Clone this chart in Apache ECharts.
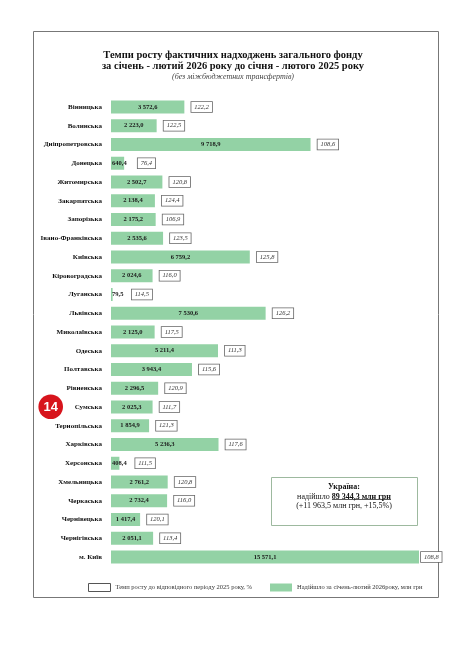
<!DOCTYPE html>
<html>
<head>
<meta charset="utf-8">
<script src="https://cdn.jsdelivr.net/npm/echarts@6/dist/echarts.min.js"></script>
<style>
  html, body { margin: 0; padding: 0; background: #fff; }
  #chart { width: 468px; height: 663px; }
</style>
</head>
<body>
<div id="chart"></div>
<script>
"use strict";
// Надходження загального фонду за січень-лютий 2026 по областях
const regions = [
    "Вінницька", "Волинська", "Дніпропетровська", "Донецька", "Житомирська",
    "Закарпатська", "Запорізька", "Івано-Франківська", "Київська", "Кіровоградська",
    "Луганська", "Львівська", "Миколаївська", "Одеська", "Полтавська",
    "Рівненська", "Сумська", "Тернопільська", "Харківська", "Херсонська",
    "Хмельницька", "Черкаська", "Чернівецька", "Чернігівська", "м. Київ",
];
// млн грн
const amounts = [
    3572.6, 2223.0, 9718.9, 640.4, 2502.7,
    2138.4, 2175.2, 2535.6, 6759.2, 2024.6,
    79.5, 7530.6, 2125.0, 5211.4, 3943.4,
    2296.5, 2025.3, 1854.9, 5236.3, 408.4,
    2761.2, 2732.4, 1417.4, 2051.1, 15571.1,
];
// темп росту, %
const growthRates = [
    122.2, 122.5, 108.6, 76.4, 120.8,
    124.4, 106.9, 123.5, 125.8, 116.0,
    114.5, 126.2, 117.5, 111.3, 115.6,
    120.9, 111.7, 121.3, 117.6, 111.5,
    120.8, 116.0, 120.1, 113.4, 108.8,
];
const titleLines = [
    "Темпи росту фактичних надходжень загального фонду",
    "за січень - лютий 2026 року до січня - лютого 2025 року",
];
const subTitle = "(без міжбюджетних трансфертів)";
const amountName = "Надійшло за січень-лютий 2026року, млн грн";
const growthName = "Темп росту до відповідного періоду 2025 року, %";
const totalLines = ["Україна:", "надійшло ", "89 344,3 млн грн", "(+11 963,5 млн грн, +15,5%)"];

const serif = "Liberation Serif";
const axisMax = 15000;
const fmtAmount = (v) => {
    const [i, d] = v.toFixed(1).split(".");
    return i.replace(/\B(?=(\d{3})+(?!\d))/g, " ") + "," + d;
};
const fmtRate = (v) => v.toFixed(1).replace(".", ",");

const chart = echarts.init(document.getElementById("chart"));
chart.setOption({
    animation: false,
    title: {
        text: titleLines.join("\n"),
        subtext: subTitle,
        left: 228,
        top: 45,
        textAlign: "center",
        itemGap: 1,
        textStyle: { fontFamily: serif, fontWeight: "bold", fontSize: 10.5, lineHeight: 11, color: "#111" },
        subtextStyle: { fontFamily: serif, fontStyle: "italic", fontSize: 8, color: "#444" },
    },
    legend: {
        left: 83,
        top: 578,
        itemWidth: 22,
        itemHeight: 8,
        itemGap: 18,
        textStyle: { fontFamily: serif, fontSize: 6.5, color: "#333" },
        data: [
            { name: growthName, icon: "rect", itemStyle: { color: "#fff", borderColor: "#555", borderWidth: 1 } },
            { name: amountName, icon: "rect", itemStyle: { color: "#93d2a5" } },
        ],
    },
    grid: { left: 111, right: 49, top: 97.6, height: 468.8, containLabel: false },
    xAxis: {
        type: "value",
        min: 0,
        max: axisMax,
        show: false,
    },
    yAxis: {
        type: "category",
        inverse: true,
        data: regions,
        axisLine: { show: false },
        axisTick: { show: false },
        axisLabel: { fontFamily: serif, fontWeight: "bold", fontSize: 7, color: "#111", margin: 9 },
    },
    series: [
        {
            name: amountName,
            type: "bar",
            barWidth: 13,
            itemStyle: { color: "#93d2a5" },
            label: {
                show: true,
                position: "inside",
                formatter: ({ value }) => fmtAmount(value),
                fontFamily: serif,
                fontWeight: "bold",
                fontSize: 6.5,
                color: "#1a1a1a",
            },
            data: amounts.map((v) => v < 1000
                ? { value: v, label: { position: "insideLeft", distance: 1 } }
                : v),
        },
        {
            name: growthName,
            type: "bar",
            barWidth: 13,
            barGap: "-100%",
            itemStyle: { color: "rgba(0,0,0,0)" },
            label: {
                show: true,
                position: "right",
                distance: 7,
                formatter: ({ dataIndex }) => fmtRate(growthRates[dataIndex]),
                fontFamily: serif,
                fontStyle: "italic",
                fontSize: 6.5,
                color: "#333",
                backgroundColor: "#fff",
                borderColor: "#666",
                borderWidth: 0.8,
                padding: [1.5, 3],
            },
            // small bars: keep the box clear of the amount text; clipped bar: box hugs the edge
            data: amounts.map((v) => {
                if (v < 1000) return { value: v, label: { distance: 20 - v / 100 } };
                if (v > axisMax) return { value: v, label: { distance: 2 } };
                return v;
            }),
        },
    ],
    graphic: [
        {
            type: "rect",
            silent: true,
            shape: { x: 33.5, y: 31.5, width: 405, height: 566 },
            style: { fill: "none", stroke: "#777", lineWidth: 1 },
        },
        {
            type: "rect",
            silent: true,
            shape: { x: 271.5, y: 477.5, width: 146, height: 48 },
            style: { fill: "#fff", stroke: "#9db99f", lineWidth: 1 },
        },
        {
            type: "text",
            silent: true,
            style: {
                x: 344,
                y: 482,
                align: "center",
                verticalAlign: "top",
                text: `{b|${totalLines[0]}}\n{n|${totalLines[1]}}{b|${totalLines[2]}}\n{n|${totalLines[3]}}`,
                rich: {
                    b: { fontFamily: serif, fontWeight: "bold", fontSize: 8, lineHeight: 9.7, fill: "#111" },
                    n: { fontFamily: serif, fontSize: 8, lineHeight: 9.7, fill: "#111" },
                },
            },
        },
        {
            type: "line",
            silent: true,
            shape: { x1: 332, y1: 499.5, x2: 391, y2: 499.5 },
            style: { stroke: "#111", lineWidth: 0.7 },
        },
        {
            type: "circle",
            silent: true,
            shape: { cx: 50.7, cy: 406.7, r: 12.3 },
            style: { fill: "#d7141c" },
        },
        {
            type: "text",
            silent: true,
            style: {
                x: 50.7,
                y: 407,
                align: "center",
                verticalAlign: "middle",
                text: "14",
                fontFamily: "Liberation Sans",
                fontWeight: "bold",
                fontSize: 13,
                fill: "#fff",
            },
        },
    ],
});
</script>
</body>
</html>
